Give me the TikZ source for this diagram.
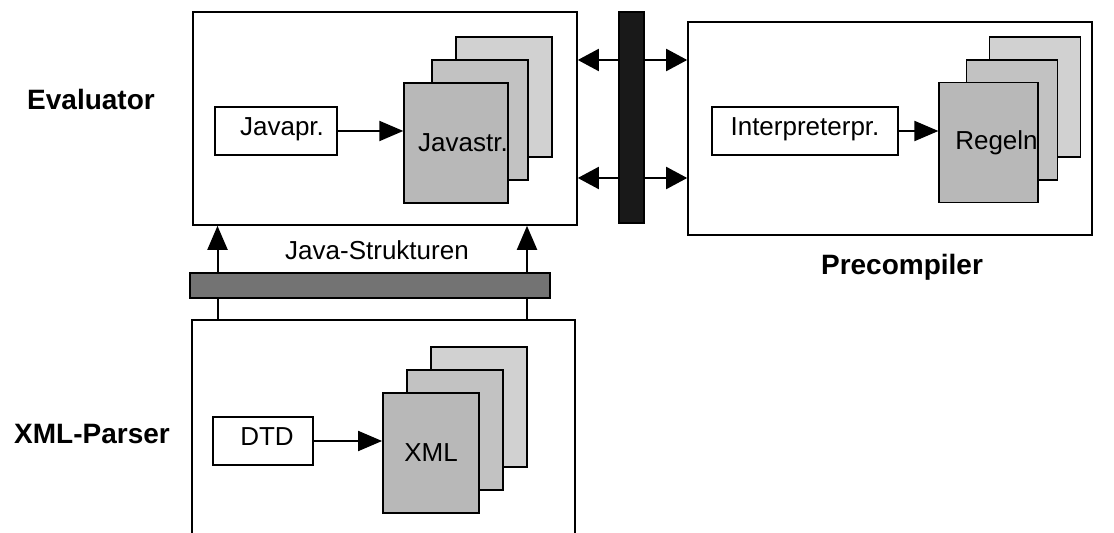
\documentclass[tikz,border=0pt]{standalone}
\usepackage{fontspec}
\setmainfont{Liberation Sans}
\usetikzlibrary{arrows.meta}
\tikzset{
  bigarrow/.style={-{Triangle[length=12pt,width=10pt]}, line width=1pt},
  dblarrow/.style={{Triangle[length=10.5pt,width=11pt]}-{Triangle[length=10.5pt,width=11pt]}, line width=1pt},
  layerbox/.style={draw, line width=0.8pt, inner sep=0pt},
  procbox/.style={draw, fill=white, line width=0.9pt, minimum width=#1, minimum height=24pt, inner sep=0pt, font=\fontsize{13}{15}\selectfont},
  page/.style={draw, line width=0.9pt, fill=black!#1, minimum width=48pt, minimum height=60pt, inner sep=0pt, font=\fontsize{13}{15}\selectfont},
  layerlabel/.style={font=\bfseries\fontsize{14}{16}\selectfont}
}

\begin{document}
\begin{tikzpicture}[x=0.5pt, y=-0.5pt]
    \useasboundingbox (0,0) rectangle (1114,533);
    \clip (0,0) rectangle (1114,533);
    % layers
    \node[layerbox, minimum width=192pt, minimum height=106.5pt] (eval) at (385,118.5) {};
    \node[layerbox, minimum width=202pt, minimum height=106.5pt] (pre) at (890,128.5) {};
    \node[layerbox, minimum width=191.5pt, minimum height=120pt] (xml) at (383.5,440) {};
    \node[layerlabel] (evallab) at (91,99) {Evaluator};
    \node[layerlabel] (xmllab) at (92,434) {XML-Parser};
    \node[layerlabel] (prelab) at (902,267) {Precompiler};

    % Evaluator
    \node[procbox=61pt] (javapr) at (276,131) {\hspace{6pt}\raisebox{4pt}{Javapr.}};
    \node[page=18] (js3) at (504,97) {};
    \node[page=24] (js2) at (480,120) {};
    \node[page=28] (js1) at (456,143) {\hspace{7pt}Javastr.};
    \draw[bigarrow] (javapr.east) -- (javapr.east -| js1.west);

    % Precompiler
    \node[procbox=93pt] (interp) at (805,131) {\raisebox{4pt}{Interpreterpr.}};
    \node[page=18, minimum width=45.5pt] (rg3) at (1035,97) {};
    \node[page=24, minimum width=45.5pt] (rg2) at (1012,120) {};
    \node[page=28, minimum width=45.5pt] (rg1) at (988.5,142.5) {\hspace{8pt}Regeln};
    \draw[bigarrow] (interp.east) -- (interp.east -| rg1.west);

    % XML-Parser
    \node[procbox=50pt] (dtd) at (263,441) {\hspace{4pt}\raisebox{4pt}{DTD}};
    \node[page=18] (xm3) at (479,407) {};
    \node[page=24] (xm2) at (455,430) {};
    \node[page=28] (xm1) at (431,453) {\raisebox{-4pt}{XML}};
    \draw[bigarrow] (dtd.east) -- (dtd.east -| xm1.west);

    % Java-Strukturen
    \draw[bigarrow] ([xshift=-83pt]xml.north) -- ([xshift=-83pt]xml.north |- eval.south);
    \draw[bigarrow] ([xshift=71.75pt]xml.north) -- ([xshift=71.75pt]xml.north |- eval.south);
    \node[draw, line width=0.8pt, fill=black!55, minimum width=180pt, minimum height=12.5pt, inner sep=0pt] (jbar) at (370,285.5) {};
    \node[font=\fontsize{13}{15}\selectfont] (jlab) at (377,250) {Java-Strukturen};

    % Evaluator <-> Precompiler
    \draw[dblarrow] ([yshift=29.25pt]eval.east) -- ([yshift=29.25pt]eval.east -| pre.west);
    \draw[dblarrow] ([yshift=-29.75pt]eval.east) -- ([yshift=-29.75pt]eval.east -| pre.west);
    \node[draw, line width=0.8pt, fill=black!90, minimum width=12.5pt, minimum height=105.5pt, inner sep=0pt] (vbar) at (631.5,117.5) {};
  \end{tikzpicture}
\end{document}
